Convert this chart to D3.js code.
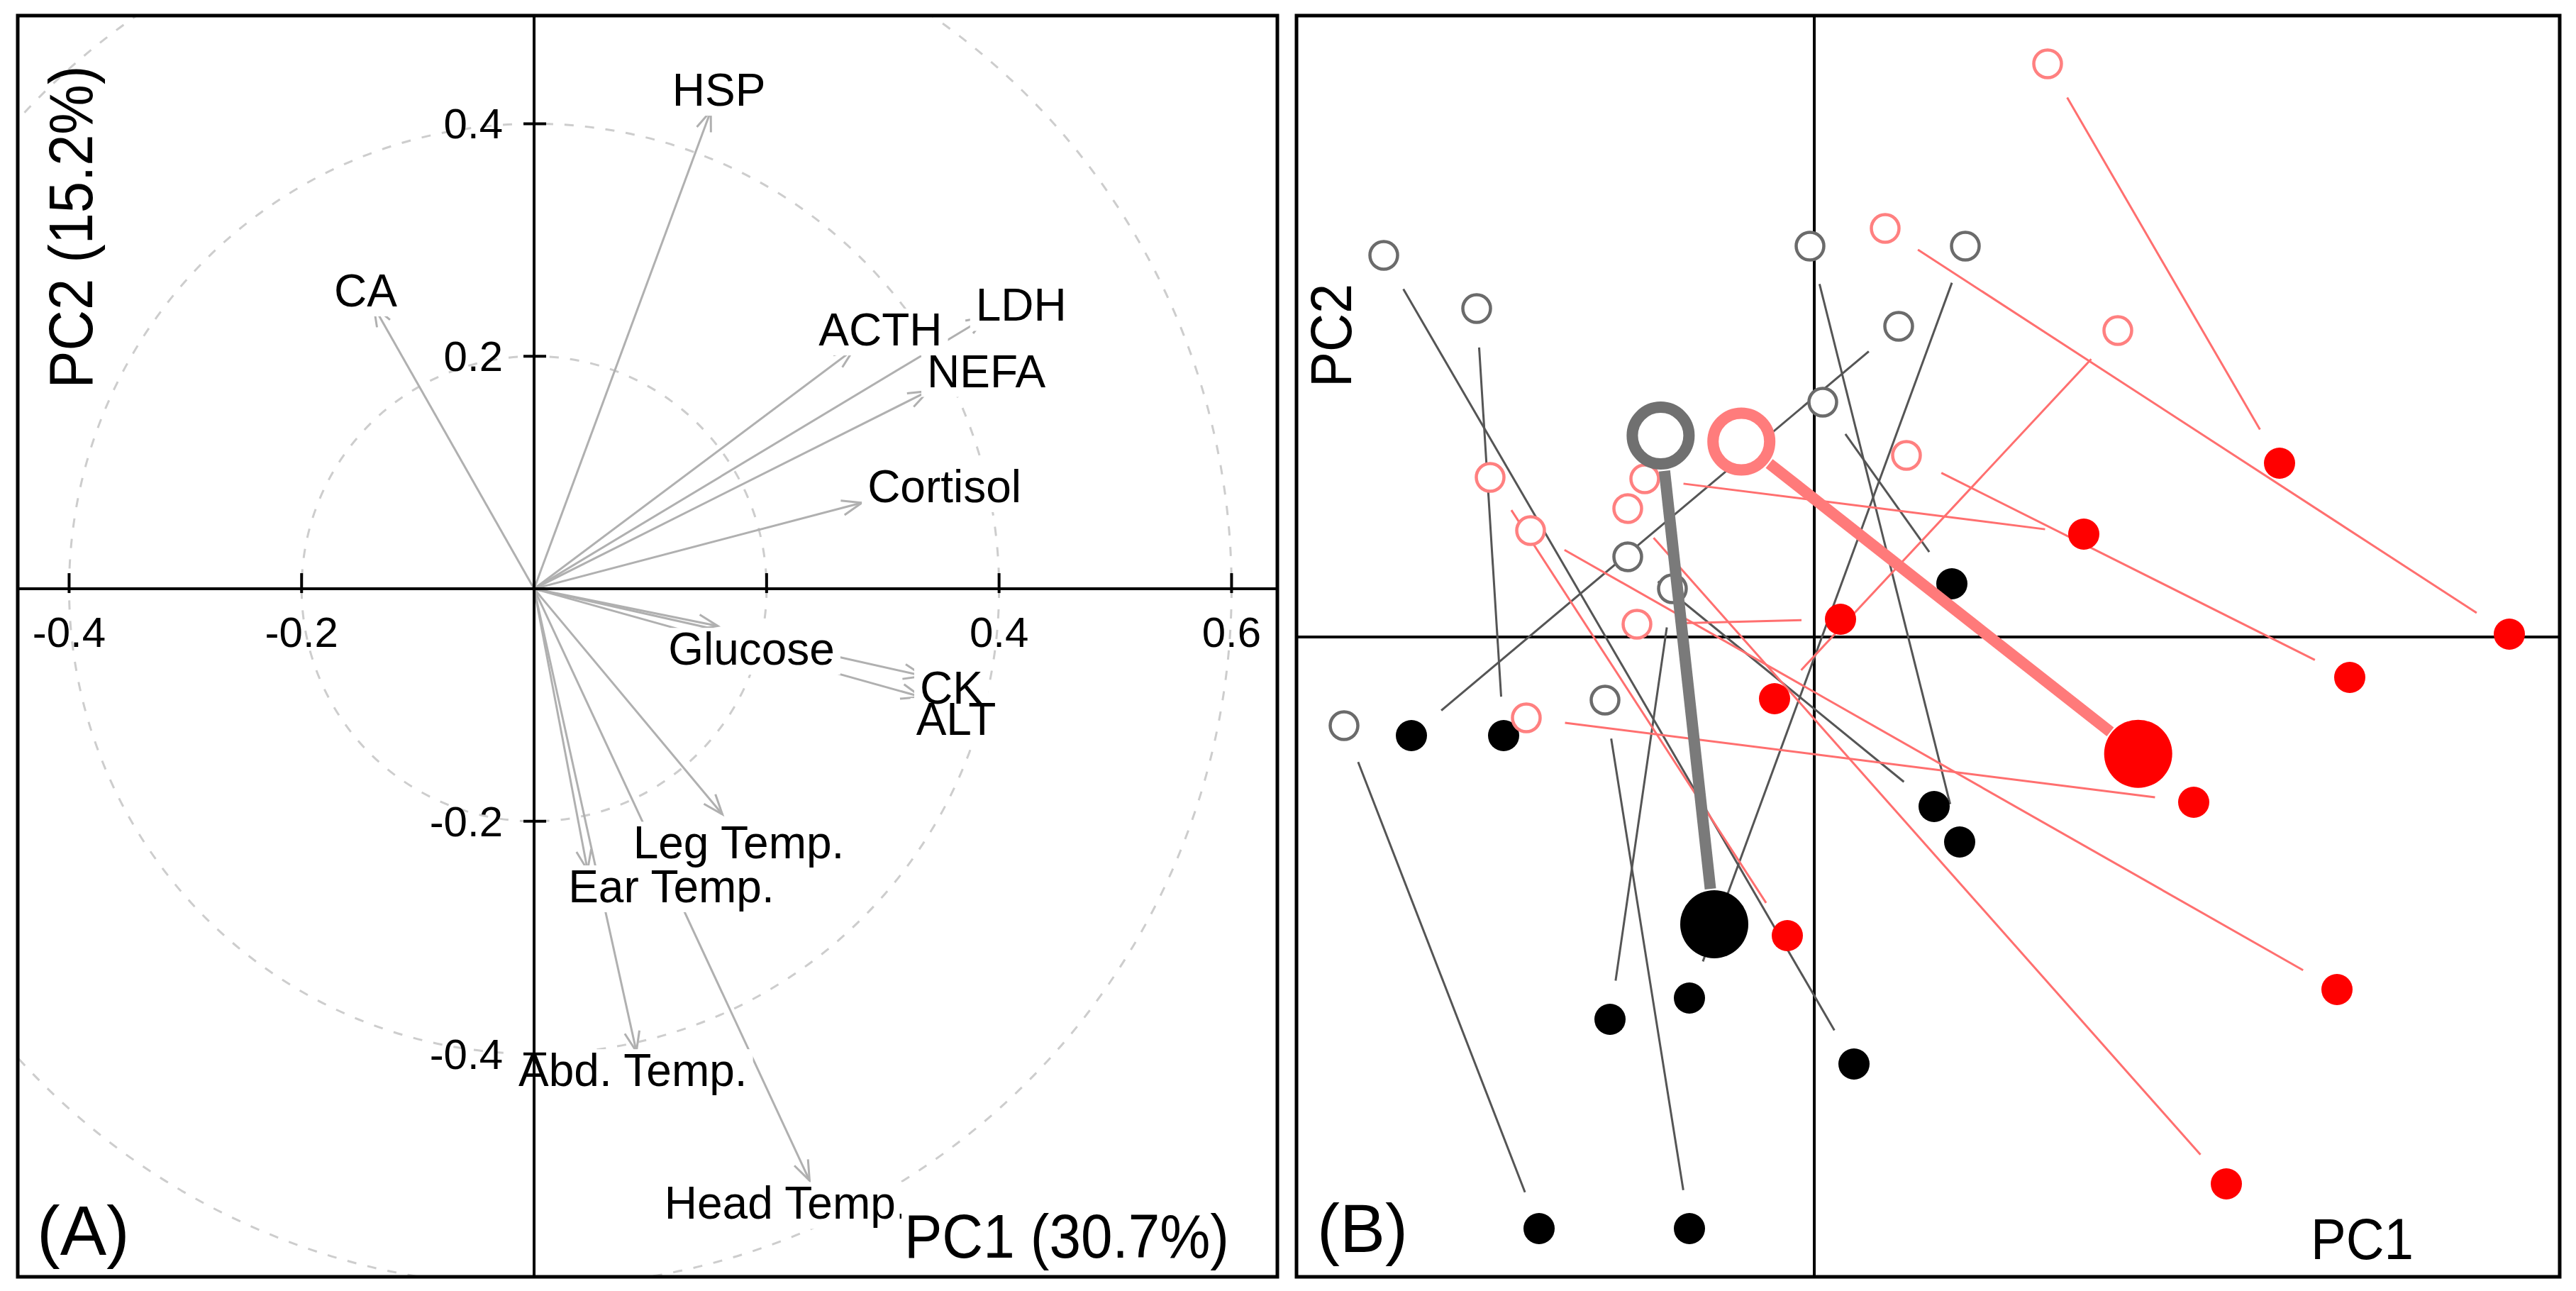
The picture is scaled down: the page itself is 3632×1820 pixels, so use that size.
<!DOCTYPE html>
<html><head><meta charset="utf-8">
<script src="https://cdn.jsdelivr.net/npm/d3@7"></script>
<style>body{margin:0;background:#fff}svg{display:block}</style>
</head><body>
<svg id="c" width="3632" height="1820"></svg>
<script>
// ---------- Panel A: variable loadings ----------
const varNames = ["HSP","CA","ACTH","LDH","NEFA","Cortisol","Glucose","CK","ALT","Leg Temp.","Ear Temp.","Abd. Temp.","Head Temp."];
const pc1Load  = [0.152,-0.138,0.275,0.389,0.339,0.282,0.158,0.335,0.333,0.162,0.046,0.088,0.237];
const pc2Load  = [0.411,0.243,0.206,0.234,0.170,0.074,-0.032,-0.075,-0.093,-0.194,-0.242,-0.398,-0.509];
// label anchor points (data units)
const labelPC1 = [0.159,-0.145,0.298,0.419,0.389,0.353,0.187,0.359,0.363,0.176,0.118,0.085,0.217];
const labelPC2 = [0.4295,0.2569,0.2233,0.2444,0.1876,0.0885,-0.0513,-0.0845,-0.1117,-0.218,-0.2556,-0.4137,-0.528];
const xTicksA = [-0.4,-0.2,0.2,0.4,0.6];
const xTickLabelsA = ["-0.4","-0.2","","0.4","0.6"];
const yTicksA = [-0.4,-0.2,0.2,0.4];
const yTickLabelsA = ["-0.4","-0.2","0.2","0.4"];
const ringRadii = [0.2,0.4,0.6];
const axisTitlesA = ["PC1 (30.7%)","PC2 (15.2%)"];
const panelTags = ["(A)","(B)"];

// ---------- Panel B: individual scores, before (open) and after (filled) ----------
const grayBeforePC1 = [-2.428,-1.904,-0.024,0.852,0.476,0.048,-1.052,-0.800,-2.652,-1.180];
const grayBeforePC2 = [2.152,1.852,2.204,2.204,1.752,1.324,0.452,0.272,-0.500,-0.356];
const grayAfterPC1  = [0.224,-1.752,0.820,-0.704,-2.272,0.776,0.676,-1.152,-1.552,-0.704];
const grayAfterPC2  = [-2.408,-0.556,-1.156,-2.036,-0.556,0.300,-0.956,-2.156,-3.336,-3.336];
const redBeforePC1  = [1.316,0.400,1.712,0.520,-1.828,-0.956,-1.052,-1.600,-1.000,-1.624];
const redBeforePC2  = [3.232,2.304,1.728,1.024,0.900,0.892,0.724,0.600,0.072,-0.456];
const redAfterPC1   = [2.624,3.920,-0.224,3.020,-0.152,1.520,2.324,2.948,0.148,2.140];
const redAfterPC2   = [0.980,0.016,-0.348,-0.228,-1.684,0.580,-3.084,-1.988,0.100,-0.932];
const axisTitlesB = ["PC1","PC2"];

const FONT = "'Liberation Sans', Arial, Helvetica, sans-serif";
const svg = d3.select("#c").attr("font-family", FONT);
svg.append("rect").attr("width",3632).attr("height",1820).attr("fill","#fff");

// ================= PANEL A =================
const xA = d3.scaleLinear().domain([-0.4442, 0.6394]).range([25, 1801]);
const yA = d3.scaleLinear().domain([-0.5918, 0.4930]).range([1800, 22]);
const gA = svg.append("g");
gA.append("clipPath").attr("id","clipA").append("rect")
  .attr("x",xA.range()[0]).attr("y",yA.range()[1])
  .attr("width",xA.range()[1]-xA.range()[0]).attr("height",yA.range()[0]-yA.range()[1]);
const innerA = gA.append("g").attr("clip-path","url(#clipA)");

innerA.selectAll("circle.ring").data(ringRadii).join("circle")
  .attr("class","ring").attr("cx",xA(0)).attr("cy",yA(0))
  .attr("r",d=>xA(d)-xA(0)).attr("fill","none")
  .attr("stroke","#cdcdcd").attr("stroke-width",3).attr("stroke-dasharray","13 16");

const load = varNames.map((n,i)=>({n, x:pc1Load[i], y:pc2Load[i], lx:labelPC1[i], ly:labelPC2[i]}));
const arrowCol = "#b0b0b0";
innerA.selectAll("line.arrow").data(load).join("line").attr("class","arrow")
  .attr("x1",xA(0)).attr("y1",yA(0)).attr("x2",d=>xA(d.x)).attr("y2",d=>yA(d.y))
  .attr("stroke",arrowCol).attr("stroke-width",3);
innerA.selectAll("path.head").data(load).join("path").attr("class","head")
  .attr("d",d=>{
    const x2=xA(d.x), y2=yA(d.y), a=Math.atan2(y2-yA(0), x2-xA(0)), L=30, t=0.36;
    return `M${x2-L*Math.cos(a-t)},${y2-L*Math.sin(a-t)}L${x2},${y2}L${x2-L*Math.cos(a+t)},${y2-L*Math.sin(a+t)}`;
  })
  .attr("fill","none").attr("stroke",arrowCol).attr("stroke-width",3);

// labels with white boxes
const boxG = gA.append("g"), txtG = gA.append("g");
load.forEach(d=>{
  const t = txtG.append("text").attr("x",xA(d.lx)).attr("y",yA(d.ly)).attr("dy","0.36em")
    .attr("text-anchor","middle").attr("font-size",64).attr("fill","#000").text(d.n);
  const b = t.node().getBBox();
  boxG.append("rect").attr("x",b.x-8).attr("y",b.y+6).attr("width",b.width+16).attr("height",b.height-6).attr("fill","#fff");
});

// axes through origin
const axA = gA.append("g").attr("stroke","#000");
axA.append("line").attr("x1",xA.range()[0]).attr("x2",xA.range()[1]).attr("y1",yA(0)).attr("y2",yA(0)).attr("stroke-width",4);
axA.append("line").attr("y1",yA.range()[0]).attr("y2",yA.range()[1]).attr("x1",xA(0)).attr("x2",xA(0)).attr("stroke-width",4);
axA.selectAll("line.xt").data(xTicksA).join("line").attr("class","xt")
  .attr("x1",d=>xA(d)).attr("x2",d=>xA(d)).attr("y1",yA(0)-22).attr("y2",yA(0)+6).attr("stroke-width",4);
axA.selectAll("line.yt").data(yTicksA).join("line").attr("class","yt")
  .attr("y1",d=>yA(d)).attr("y2",d=>yA(d)).attr("x1",xA(0)-15).attr("x2",xA(0)+17).attr("stroke-width",4);
gA.selectAll("text.xtl").data(xTicksA).join("text").attr("class","xtl")
  .attr("x",d=>xA(d)).attr("y",yA(0)+82).attr("text-anchor","middle").attr("font-size",60)
  .text((d,i)=>xTickLabelsA[i]);
gA.selectAll("text.ytl").data(yTicksA).join("text").attr("class","ytl")
  .attr("x",xA(0)-44).attr("y",d=>yA(d)+21).attr("text-anchor","end").attr("font-size",60)
  .text((d,i)=>yTickLabelsA[i]);

// axis titles
const pc1T = gA.append("text").attr("x",1275).attr("y",1773).attr("font-size",88)
  .attr("textLength",458).attr("lengthAdjust","spacingAndGlyphs").text(axisTitlesA[0]);
{ const b = pc1T.node().getBBox();
  gA.insert("rect", ()=>pc1T.node()).attr("x",b.x-4).attr("y",1773-66).attr("width",b.width+8).attr("height",b.y+b.height-(1773-66)).attr("fill","#fff"); }
gA.append("text").attr("transform","translate(130,320) rotate(-90)").attr("text-anchor","middle")
  .attr("font-size",88).attr("textLength",455).attr("lengthAdjust","spacingAndGlyphs").text(axisTitlesA[1]);
gA.append("text").attr("x",52).attr("y",1769).attr("font-size",98).text(panelTags[0]);
gA.append("rect").attr("x",25).attr("y",22).attr("width",1776).attr("height",1778)
  .attr("fill","none").attr("stroke","#000").attr("stroke-width",5);

// ================= PANEL B =================
const xB = d3.scaleLinear().domain([-2.92, 4.204]).range([1828, 3609]);
const yB = d3.scaleLinear().domain([-3.608, 3.504]).range([1800, 22]);
const gB = svg.append("g");
gB.append("line").attr("x1",xB.range()[0]).attr("x2",xB.range()[1]).attr("y1",yB(0)).attr("y2",yB(0)).attr("stroke","#000").attr("stroke-width",4);
gB.append("line").attr("y1",yB.range()[0]).attr("y2",yB.range()[1]).attr("x1",xB(0)).attr("x2",xB(0)).attr("stroke","#000").attr("stroke-width",4);

function pairs(bx,by,ax,ay){ return bx.map((v,i)=>({bx:v,by:by[i],ax:ax[i],ay:ay[i]})); }
const groups = [
  {p:pairs(grayBeforePC1,grayBeforePC2,grayAfterPC1,grayAfterPC2), line:"#555555", open:"#6b6b6b", fill:"#000000", mLine:"#7a7a7a", mOpen:"#707070", mFill:"#000000"},
  {p:pairs(redBeforePC1,redBeforePC2,redAfterPC1,redAfterPC2), line:"#ff6f6f", open:"#ff8080", fill:"#ff0000", mLine:"#ff7a7a", mOpen:"#ff7c7c", mFill:"#ff0000"}
];
groups.forEach(g=>{
  g.mean = {bx:d3.mean(g.p,d=>d.bx), by:d3.mean(g.p,d=>d.by), ax:d3.mean(g.p,d=>d.ax), ay:d3.mean(g.p,d=>d.ay)};
});
function seg(d,trim){
  const x1=xB(d.bx), y1=yB(d.by), x2=xB(d.ax), y2=yB(d.ay);
  const L=Math.hypot(x2-x1,y2-y1), ux=(x2-x1)/L, uy=(y2-y1)/L;
  return [x1+ux*trim, y1+uy*trim, x2-ux*trim, y2-uy*trim];
}
// thin segments
groups.forEach(g=>{
  gB.append("g").selectAll("line").data(g.p).join("line")
    .each(function(d){ const s=seg(d,55); d3.select(this).attr("x1",s[0]).attr("y1",s[1]).attr("x2",s[2]).attr("y2",s[3]); })
    .attr("stroke",g.line).attr("stroke-width",3);
});
// small markers
groups.forEach(g=>{
  const m = gB.append("g");
  m.selectAll("circle.o").data(g.p).join("circle").attr("class","o")
    .attr("cx",d=>xB(d.bx)).attr("cy",d=>yB(d.by)).attr("r",19.5)
    .attr("fill","#fff").attr("stroke",g.open).attr("stroke-width",4.5);
  m.selectAll("circle.f").data(g.p).join("circle").attr("class","f")
    .attr("cx",d=>xB(d.ax)).attr("cy",d=>yB(d.ay)).attr("r",22).attr("fill",g.fill);
});
// group means
groups.forEach(g=>{
  const s = seg(g.mean,50);
  gB.append("line").attr("x1",s[0]).attr("y1",s[1]).attr("x2",s[2]).attr("y2",s[3])
    .attr("stroke",g.mLine).attr("stroke-width",16);
});
groups.forEach(g=>{
  gB.append("circle").attr("cx",xB(g.mean.bx)).attr("cy",yB(g.mean.by)).attr("r",40)
    .attr("fill","#fff").attr("stroke",g.mOpen).attr("stroke-width",16);
  gB.append("circle").attr("cx",xB(g.mean.ax)).attr("cy",yB(g.mean.ay)).attr("r",48).attr("fill",g.mFill);
});

gB.append("text").attr("x",3258).attr("y",1775).attr("font-size",82)
  .attr("textLength",145).attr("lengthAdjust","spacingAndGlyphs").text(axisTitlesB[0]);
gB.append("text").attr("transform","translate(1905,473) rotate(-90)").attr("text-anchor","middle")
  .attr("font-size",82).attr("textLength",146).attr("lengthAdjust","spacingAndGlyphs").text(axisTitlesB[1]);
gB.append("text").attr("x",1857).attr("y",1765).attr("font-size",96).text(panelTags[1]);
gB.append("rect").attr("x",1828).attr("y",22).attr("width",1781).attr("height",1778)
  .attr("fill","none").attr("stroke","#000").attr("stroke-width",5);
</script>
</body></html>
